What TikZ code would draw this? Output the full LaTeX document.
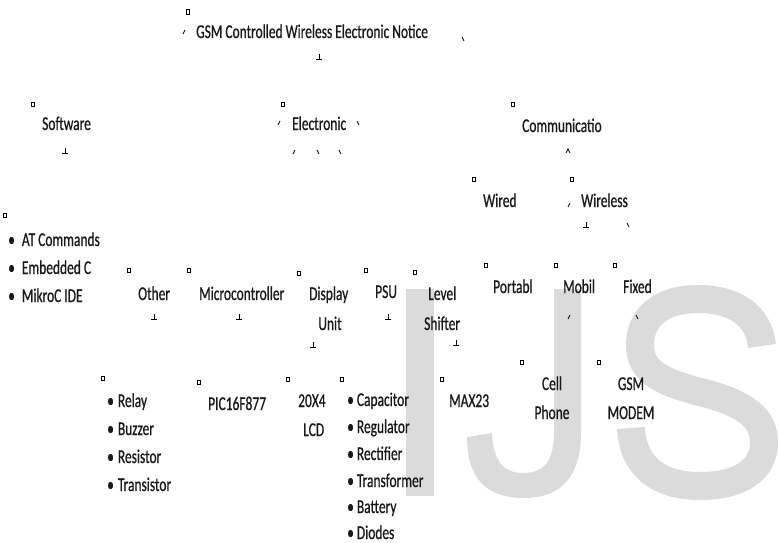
\documentclass[tikz,border=0pt]{standalone}
\usepackage{fontspec}
\setmainfont{Carlito}[FakeStretch=0.69,FakeBold=0.7]
\begin{document}
\begin{tikzpicture}[x=1pt,y=-1pt,
  lbl/.style={anchor=base west,inner sep=0pt,text=black!90,font=\fontsize{19.5}{23}\selectfont},
  clbl/.style={lbl,anchor=base},
  glyph/.style={draw=black,line width=0.7pt},
  wm/.style={fill=black!14,draw=none},
  gbox/.pic={\draw[glyph,line width=0.6pt] (-1.5,-2.2) rectangle (1.5,2.2);},
  gslash/.pic={\draw[glyph] (-1,2) -- (1,-2);},
  gback/.pic={\draw[glyph] (-1,-2) -- (1,2);},
  gperp/.pic={\draw[glyph] (0,-3) -- (0,2) (-3,2) -- (3,2);},
  gcaret/.pic={\draw[glyph] (-2,2) -- (0,-2) -- (2,2);}
]
\useasboundingbox (0,0) rectangle (779,543);
\fill[white] (0,0) rectangle (779,543);
\begin{scope}
\clip (0,0) rectangle (779,543);
% watermark IJS
\fill[wm] (406,289) rectangle (434,496);
\fill[wm] (554,289) -- (581,289) -- (581,432)
  .. controls (581,478) and (560,498) .. (524,498)
  .. controls (486,498) and (467,478) .. (467,437)
  -- (492,433)
  .. controls (493,460) and (503,473) .. (523,473)
  .. controls (545,473) and (554,460) .. (554,432) -- cycle;
\draw[draw=black!14,line width=28pt]
  (762,346) .. controls (759,315) and (734,299) .. (698,299)
  .. controls (660,299) and (640,318) .. (640,345)
  .. controls (640,372) and (662,382) .. (700,392)
  .. controls (745,403) and (764,418) .. (764,442)
  .. controls (764,470) and (740,486) .. (700,486)
  .. controls (658,486) and (633,466) .. (631,428);
\end{scope}

% texts
\node[lbl] (title) at (196,38) {GSM Controlled Wireless Electronic Notice};
\node[lbl] (sw) at (42,130) {Software};
\node[lbl] (el) at (292,130) {Electronic};
\node[lbl] (com) at (522,132) {Communicatio};
\node[lbl] (wired) at (483,207) {Wired};
\node[lbl] (wless) at (581,207) {Wireless};
\node[lbl] (at) at (8,246) {•\hspace{7pt}AT Commands};
\node[lbl] (emb) at (8,274) {•\hspace{7pt}Embedded C};
\node[lbl] (mik) at (8,302) {•\hspace{7pt}MikroC IDE};
\node[lbl] (oth) at (138,300) {Other};
\node[lbl] (mc) at (199,300) {Microcontroller};
\node[lbl] (disp) at (309,300) {Display};
\node[clbl] (unit) at (330,330) {Unit};
\node[lbl] (psu) at (375,298) {PSU};
\node[lbl] (lev) at (428,300) {Level};
\node[lbl] (shf) at (424,330) {Shifter};
\node[lbl] (port) at (493,293) {Portabl};
\node[lbl] (mob) at (563,293) {Mobil};
\node[lbl] (fix) at (623,293) {Fixed};
\node[clbl] (cell) at (552,390) {Cell};
\node[clbl] (phone) at (552,419) {Phone};
\node[clbl] (gsm) at (631,390) {GSM};
\node[clbl] (modem) at (631,419) {MODEM};
\node[lbl] (max) at (449,407) {MAX23};
\node[lbl] (pic) at (208,410) {PIC16F877};
\node[lbl] (lcd1) at (298,407) {20X4};
\node[lbl] (lcd2) at (303,436) {LCD};
\node[lbl] (relay) at (107,407) {•\hspace{4pt}Relay};
\node[lbl] (buzz) at (107,435) {•\hspace{4pt}Buzzer};
\node[lbl] (res) at (107,463) {•\hspace{4pt}Resistor};
\node[lbl] (trs) at (107,491) {•\hspace{4pt}Transistor};
\node[lbl] (cap) at (347,406) {•\hspace{3pt}Capacitor};
\node[lbl] (reg) at (347,433) {•\hspace{3pt}Regulator};
\node[lbl] (rect) at (347,460) {•\hspace{3pt}Rectifier};
\node[lbl] (trf) at (347,487) {•\hspace{3pt}Transformer};
\node[lbl] (bat) at (347,513) {•\hspace{3pt}Battery};
\node[lbl,text depth=0pt] (dio) at (347,539) {•\hspace{3pt}Diodes};

% small glyph boxes
\foreach \p in {(188,12),(33,104),(283,104),(513,104),(474,179),(572,179),
  (5,215),(129,270),(189,270),(299,273),(366,270),(415,272),
  (486,265),(556,265),(615,265),(522,362),(599,362),(442,379),
  (103,378),(199,382),(288,379),(342,379)}
  \path \p pic{gbox};
% slashes
\foreach \p in {(184,32),(279,123),(294,152),(569,205),(569,317)}
  \path \p pic{gslash};
% backslashes
\foreach \p in {(463,39),(358,123),(318,152),(340,152),(628,225),(637,317)}
  \path \p pic{gback};
% perpendicular marks
\foreach \p in {(319,57),(65,151),(586,225),(154,317),(239,317),(313,345),(388,317),(456,343)}
  \path \p pic{gperp};
\path (568,151) pic{gcaret};
\end{tikzpicture}
\end{document}
